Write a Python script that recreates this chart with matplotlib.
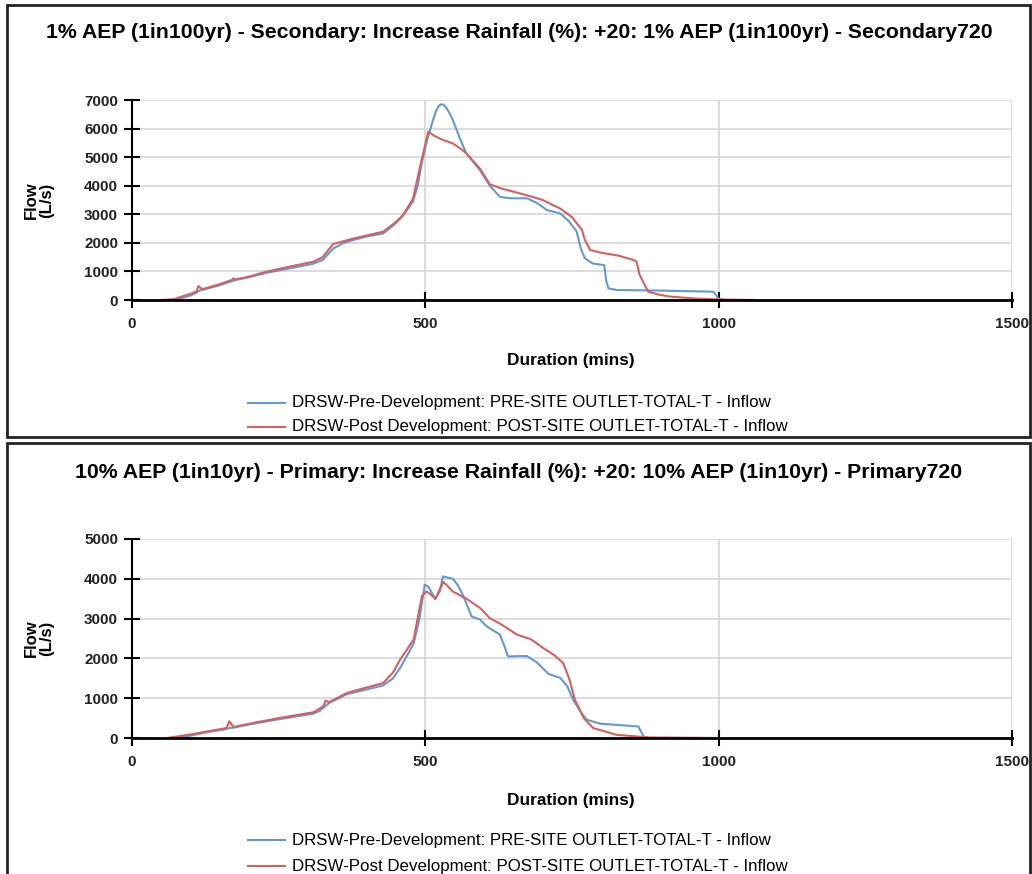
import matplotlib
matplotlib.use("Agg")
import matplotlib.pyplot as plt
from matplotlib.patches import Rectangle
from matplotlib.lines import Line2D

plt.rcParams['font.family'] = ['Liberation Sans', 'DejaVu Sans']

# ---------------- data ----------------
titles = [
    "1% AEP (1in100yr) - Secondary: Increase Rainfall (%): +20: 1% AEP (1in100yr) - Secondary720",
    "10% AEP (1in10yr) - Primary: Increase Rainfall (%): +20: 10% AEP (1in10yr) - Primary720",
]
series_names = [
    "DRSW-Pre-Development: PRE-SITE OUTLET-TOTAL-T - Inflow",
    "DRSW-Post Development: POST-SITE OUTLET-TOTAL-T - Inflow",
]
x_label = "Duration (mins)"
y_label = "Flow\n(L/s)"
x_ticks = [0, 500, 1000, 1500]
y_ticks_top = [0, 1000, 2000, 3000, 4000, 5000, 6000, 7000]
y_ticks_bottom = [0, 1000, 2000, 3000, 4000, 5000]

# Top chart (1% AEP) - pre development
top_pre_t = [50, 60, 80, 100, 110, 115, 121, 150, 173, 200, 229, 260, 309, 325, 343,
             360, 377, 400, 428, 445, 462, 479, 487, 494, 503, 513, 518, 523, 527, 531, 536,
             541, 547, 560, 570, 593, 610, 627, 645, 673, 690, 707, 730, 745, 758, 765,
             772, 785, 805, 808, 812, 826, 900, 991, 1000, 1010]
top_pre_q = [0, 0, 40, 160, 260, 330, 360, 520, 680, 800, 950, 1070, 1270, 1400, 1800,
             1990, 2100, 2220, 2330, 2600, 2950, 3450, 4000, 4800, 5600, 6290, 6600, 6800, 6850, 6830, 6720,
             6550, 6290, 5600, 5130, 4545, 4000, 3610, 3560, 3560, 3400, 3150, 3030, 2750, 2390, 1800,
             1460, 1280, 1220, 700, 410, 350, 330, 290, 50, 0]
# Top chart (1% AEP) - post development
top_post_t = [50, 70, 100, 110, 113, 117, 121, 150, 170, 173, 176, 200, 229, 260, 309,
              325, 343, 377, 428, 445, 462, 479, 491, 505, 515, 530, 547, 560, 570,
              593, 610, 630, 667, 700, 730, 750, 767, 772, 781, 800, 830, 855, 860,
              865, 872, 880, 900, 917, 960, 1000, 1060]
top_post_q = [0, 20, 220, 300, 490, 420, 380, 560, 700, 760, 720, 820, 990, 1130, 1340,
              1500, 1960, 2150, 2390, 2650, 2970, 3550, 4660, 5890, 5750, 5600, 5480, 5300, 5130,
              4600, 4050, 3900, 3700, 3500, 3200, 2900, 2450, 2100, 1750, 1650, 1550, 1400, 1340,
              900, 600, 290, 180, 120, 50, 20, 0]

# Bottom chart (10% AEP) - pre development
bot_pre_t = [60, 75, 100, 130, 160, 166, 173, 200, 250, 309, 320, 326, 336, 366, 400,
             428, 445, 457, 470, 480, 490, 499, 505, 517, 525, 530, 547, 555, 565,
             579, 593, 605, 627, 635, 641, 673, 690, 710, 730, 742, 752, 765, 775,
             798, 863, 868, 872, 880]
bot_pre_q = [0, 0, 60, 150, 220, 250, 260, 340, 470, 610, 680, 760, 880, 1100, 1220,
             1320, 1500, 1760, 2100, 2370, 3000, 3850, 3800, 3500, 3700, 4060, 4000, 3850, 3560,
             3050, 2980, 2800, 2600, 2300, 2050, 2060, 1900, 1610, 1510, 1300, 960, 650, 460,
             360, 290, 150, 40, 0]
# Bottom chart (10% AEP) - post development
bot_post_t = [60, 100, 130, 161, 166, 173, 200, 250, 309, 326, 330, 336, 366, 400, 428,
              445, 457, 480, 494, 502, 510, 517, 525, 531, 547, 570, 593, 610, 630,
              656, 680, 701, 720, 735, 745, 755, 770, 786, 826, 880, 1000]
bot_post_q = [0, 90, 170, 250, 420, 275, 360, 500, 645, 795, 940, 900, 1130, 1270, 1380,
              1650, 1970, 2470, 3560, 3680, 3600, 3490, 3750, 3920, 3680, 3500, 3270, 3010, 2850,
              2600, 2480, 2260, 2080, 1880, 1500, 960, 500, 250, 80, 15, 0]

# ---------------- style ----------------
BLUE = "#6399d3"
RED = "#d4605f"
GRID = "#d9d9d9"

W, H = 1032, 874
fig = plt.figure(figsize=(W / 100, H / 100), dpi=100)


def fx(px):
    return px / W


def fy(py):
    return 1 - py / H


# panel borders
for (x0, y0, x1, y1) in [(7, 5, 1030, 437), (7, 443, 1030, 880)]:
    fig.patches.append(Rectangle((fx(x0), fy(y1)), fx(x1) - fx(x0), fy(y0) - fy(y1),
                                 transform=fig.transFigure, fill=False,
                                 edgecolor="#222222", linewidth=2.0, zorder=0))

panels = [
    dict(title=titles[0], title_y=33, ax_top=100, ax_bot=300, yt=y_ticks_top, ymax=7000,
         pre=(top_pre_t, top_pre_q), post=(top_post_t, top_post_q),
         xlab_y=360, leg_y=(403, 427)),
    dict(title=titles[1], title_y=472, ax_top=539, ax_bot=738, yt=y_ticks_bottom, ymax=5000,
         pre=(bot_pre_t, bot_pre_q), post=(bot_post_t, bot_post_q),
         xlab_y=800, leg_y=(840, 866)),
]

for p in panels:
    ax = fig.add_axes([fx(132), fy(p["ax_bot"]), fx(1012) - fx(132),
                       fy(p["ax_top"]) - fy(p["ax_bot"])])
    ax.set_xlim(0, 1500)
    ax.set_ylim(0, p["ymax"])
    ax.set_xticks(x_ticks)
    ax.set_yticks(p["yt"])
    ax.grid(True, color=GRID, linewidth=1.3, zorder=0)
    ax.set_axisbelow(True)
    for s in ["top", "right"]:
        ax.spines[s].set_visible(False)
    ax.spines["left"].set_linewidth(1.5)
    ax.spines["bottom"].set_linewidth(2.0)
    ax.spines["left"].set_zorder(5)
    ax.spines["bottom"].set_zorder(5)
    ax.tick_params(axis="both", direction="inout", length=12, width=1.5,
                   labelsize=11, pad=4)
    ax.tick_params(axis="x", pad=6)
    for lab in ax.get_xticklabels() + ax.get_yticklabels():
        lab.set_fontweight("bold")
        lab.set_color("#222222")
    ax.plot(p["pre"][0], p["pre"][1], color=BLUE, linewidth=1.5, zorder=3)
    ax.plot(p["post"][0], p["post"][1], color=RED, linewidth=1.5, zorder=3)
    fig.text(fx(571), fy(p["xlab_y"]), x_label, ha="center", va="center",
             fontweight="bold", fontsize=12.4)
    fig.text(fx(39), fy((p["ax_top"] + p["ax_bot"]) / 2), y_label, ha="center",
             va="center", rotation=90, fontweight="bold", fontsize=12,
             linespacing=1.0)
    fig.text(fx(519), fy(p["title_y"]), p["title"], ha="center", va="center",
             fontweight="bold", fontsize=15.3)
    # legend
    for name, col, ly in zip(series_names, [BLUE, RED], p["leg_y"]):
        fig.add_artist(Line2D([fx(248), fx(285)], [fy(ly), fy(ly)], color=col,
                              linewidth=1.5, transform=fig.transFigure))
        fig.text(fx(292), fy(ly), name, ha="left", va="center", fontsize=12.2)

fig.savefig("out.png", dpi=100)
